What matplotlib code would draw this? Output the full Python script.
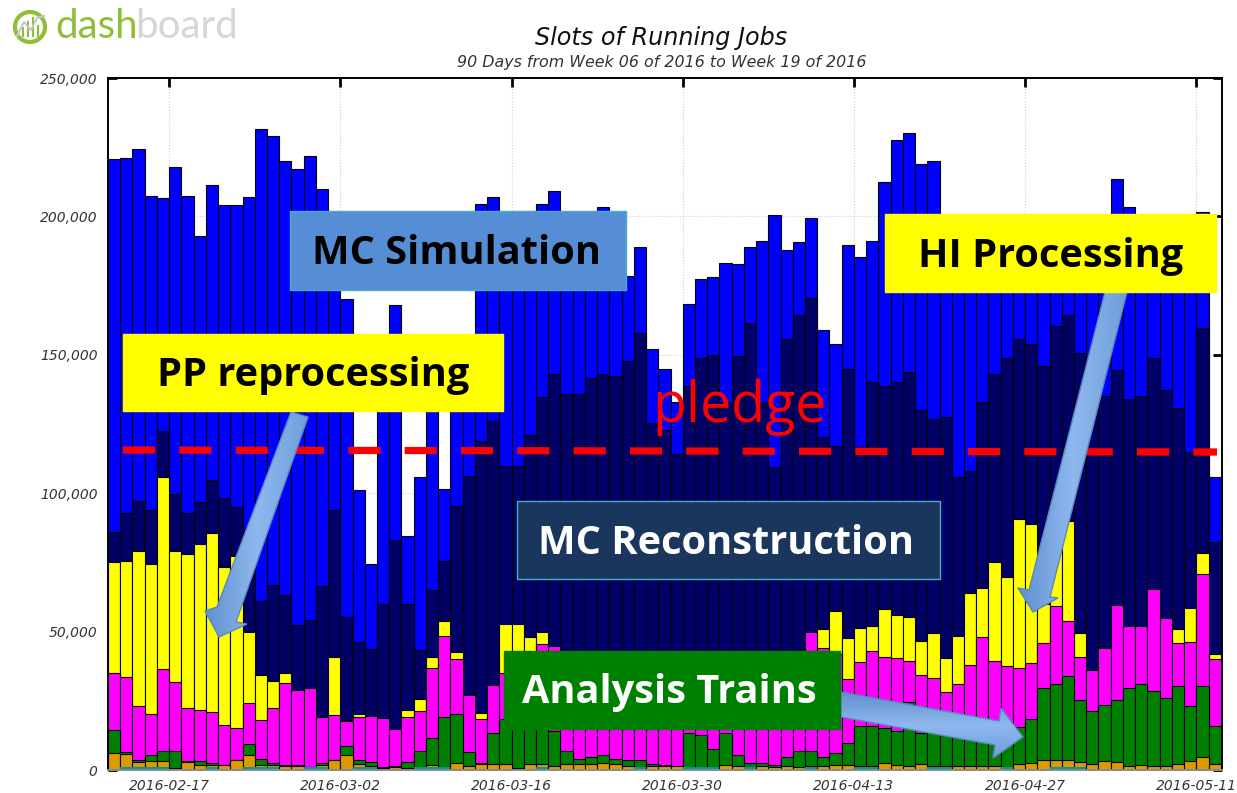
#!/usr/bin/env python3
"""Slots of running jobs, stacked daily bars with slide annotations on top."""
import matplotlib
matplotlib.use("Agg")
import matplotlib.dates as mdates
import matplotlib.pyplot as plt
import numpy as np
from matplotlib.colors import LinearSegmentedColormap
from matplotlib.patches import Circle, Polygon, Rectangle
from matplotlib.ticker import FuncFormatter

W, H = 1237, 793

# stack tops per day, in thousands of slots
blue_top = [220.7, 221, 224.5, 207.5, 206.5, 218, 207.5, 193, 211.5, 204,
            204, 207, 231.5, 229, 220, 217, 222, 210, 190, 170,
            101, 74.5, 130, 168, 84.5, 106, 135, 101.5, 130, 145,
            204.5, 207, 190, 190, 202, 204.5, 209, 195, 195, 200,
            203.5, 190, 178.5, 189, 152, 145, 133, 168.4, 177.5, 178,
            183, 182.7, 189, 191.2, 200.5, 187.8, 190.7, 199.3, 159, 154,
            189.7, 185.5, 191.2, 212.5, 227.5, 230, 218.8, 220, 190, 185,
            190, 195, 190, 180, 185, 190, 195, 195, 190, 185,
            190, 195, 213.6, 203.3, 190, 190, 185, 172.7, 185, 201.6, 106]
navy_top = [85.9, 92.7, 97.2, 94, 122.5, 99.7, 92.7, 96.7, 104.8, 98.4,
            95, 75, 61.2, 66.8, 63.4, 52.5, 54.2, 66.3, 94, 55.4,
            46.2, 43.6, 60, 83, 60, 43.4, 65, 75.4, 95.5, 106.3,
            119, 126, 110, 109.7, 121, 134.7, 143, 135.8, 136, 141.6,
            143, 142.5, 147.9, 157.7, 125.4, 122.7, 114.2, 138.7, 148.8, 150,
            133, 149.4, 161.5, 133, 109.6, 155.7, 164.4, 170.6, 120.4, 117,
            144.9, 116.8, 140.2, 138.7, 140.2, 143.8, 130, 126.8, 127.5, 106,
            108, 133, 143, 148.8, 155.7, 154, 146, 160.4, 164.4, 150.6,
            140, 135, 144.5, 134, 135, 148.8, 137.3, 130.8, 115, 159.7, 82.4]
yellow_top = [75, 75.6, 79, 74.4, 105.9, 79, 78, 81.8, 85.8, 73.3,
              77.3, 49.7, 34.3, 32, 35, 29, 29.8, 19, 41, 17.9,
              20.4, 19.6, 18.9, 14.7, 21.7, 25.6, 40.7, 53.7, 42.8, 27,
              20.6, 30.7, 52.6, 52.6, 48, 49.7, 44.9, 38, 37, 36,
              38, 37, 36, 35, 34, 33, 32, 35, 36, 37,
              35, 34, 36, 38, 40, 38, 41, 49.7, 50.9, 57.4,
              47.7, 51.4, 52, 58.3, 56, 55.4, 46.6, 49.4, 40.5, 48.5,
              64, 65.8, 75, 69.9, 90.6, 88.8, 60, 80, 90, 49.4,
              36, 44.2, 59.5, 52, 52, 65.3, 54.9, 50.9, 58.4, 78.4, 41.8]
magenta_top = [35.2, 33.6, 23.2, 20.4, 36.4, 31.8, 22.5, 21.5, 20.9, 16.3,
               15.1, 24.3, 18.1, 22.5, 31.3, 29, 29.8, 19, 19.8, 17.8,
               19, 19.6, 18.9, 14.7, 19, 21.3, 37, 48.3, 40, 27,
               18.6, 30.7, 35.2, 36, 38, 45.4, 44.9, 38, 37, 36,
               38, 37, 36, 35, 34, 33, 32, 35, 36, 37,
               35, 34, 36, 38, 40, 38, 41, 49.7, 44, 42,
               33, 39, 43, 41, 40.4, 39.2, 34.2, 33.1, 28, 31,
               37.9, 48.2, 39.2, 37.6, 36.8, 38.8, 45.8, 59.1, 54, 41,
               36, 44.2, 59.5, 52, 52, 65.3, 54.9, 46, 46.3, 70.9, 40]
green_top = [14.4, 6.6, 3.7, 5.4, 7, 7, 3.1, 3.1, 2.5, 1.9,
             3.5, 9.3, 4, 2.7, 1.9, 1.9, 1, 2.5, 3.5, 8.7,
             3.5, 3, 1, 1.6, 3, 7, 11.6, 19, 20.2, 6.5,
             2.7, 13.2, 18.3, 17, 16, 16, 14, 7, 4, 4.6,
             5.4, 4, 3.7, 3.7, 2.2, 1.9, 1.2, 13.2, 12.6, 7.5,
             13.2, 5.3, 2.5, 2.7, 1.9, 4.6, 7, 7, 4.6, 6.3,
             9.6, 16, 16, 15, 14, 24.6, 13.2, 14, 14, 14.5,
             15, 15, 15, 15, 15.4, 18.3, 29.8, 31, 33.9, 25.3,
             21.3, 23.6, 25.3, 29.8, 31, 28.7, 25.9, 30.5, 23, 30.5, 15.8]
orange_top = [6.3, 5.7, 2.9, 3.1, 3.1, 0.8, 2.8, 1.9, 1.9, 1.9,
              3.5, 5.3, 1.9, 1.9, 1.3, 1.3, 0.7, 1.9, 3.5, 5.3,
              2.2, 1.3, 0.7, 1, 0.8, 1, 1.8, 1.1, 2.4, 1.3,
              2, 2, 2, 0.8, 2, 2, 1.3, 2, 2, 2,
              2.5, 2, 1.3, 1.2, 1.3, 1.3, 1.3, 0.9, 1.1, 1.1,
              1.8, 1.3, 0.9, 1.3, 1.1, 1.5, 1.2, 1.5, 1.5, 1.8,
              1.8, 1.3, 1.3, 2.5, 1.8, 1.3, 2, 1.5, 1.5, 1.5,
              1.6, 1.6, 1.6, 1, 2.2, 2.7, 3.6, 3.6, 3.6, 2.8,
              2.1, 3.4, 2.8, 1.3, 1.8, 1.3, 1.3, 2.2, 3.4, 4.6, 2.2]
teal_top = [0, 1, 1, 1, 1, 0, 0, 0, 1, 0,
            0, 1, 1, 1, 0, 0, 1, 1, 0, 0,
            1, 1, 0, 0, 0, 1, 1, 1, 0, 0,
            0, 0, 0, 0, 0, 1, 0, 0, 0, 0,
            0, 0, 0, 1, 0, 0, 0, 1, 1, 1,
            0, 0, 1, 0, 0, 0, 0, 1, 0, 0,
            0, 1, 1, 0, 0, 0, 0, 1, 1, 0,
            0, 0, 0, 1, 0, 0, 0, 1, 1, 1,
            0, 0, 0, 0, 0, 0, 0, 0, 0, 0, 0]

series = [(blue_top, "#0000ff"), (navy_top, "#000066"), (yellow_top, "#ffff00"),
          (magenta_top, "#ff00ff"), (green_top, "#008000"),
          (orange_top, "#dd9900")]

first_day = np.datetime64("2016-02-12")
tick_dates = ["2016-02-17", "2016-03-02", "2016-03-16", "2016-03-30",
              "2016-04-13", "2016-04-27", "2016-05-11"]
y_ticks = [0, 50000, 100000, 150000, 200000, 250000]

title = "Slots of Running Jobs"
subtitle = "90 Days from Week 06 of 2016 to Week 19 of 2016"

# label, x0, y0, x1, y1, fill, edge, text colour, text centre x
boxes = [
    ("MC Simulation", 290, 211, 626, 290, "#558ed5", "#4bacc6", "black", 456),
    ("PP reprocessing", 123, 334, 503, 411, "#ffff00", "#ffff00", "black", 313),
    ("HI Processing", 885, 214, 1216, 292, "#ffff00", "#ffff00", "black", 1051),
    ("MC Reconstruction", 517, 501, 940, 579, "#1a365d", "#4bacc6", "white", 726),
    ("Analysis Trains", 504, 651, 840, 729, "#008000", "#008000", "white", 669),
]
# outline points, gradient direction
arrows = [
    ([(291, 412), (308, 417), (236, 622), (247, 624), (219, 637), (205, 611), (217, 607)], "h"),
    ([(1105, 292), (1127, 292), (1050, 597), (1058, 598), (1033, 612), (1018, 588), (1029, 590)], "h"),
    ([(841, 692), (999, 721), (1001, 708), (1023, 737), (993, 758), (995, 745), (841, 717)], "v"),
]


def draw_arrow(ov, pts, direction):
    xs, ys = zip(*pts)
    cmap = LinearSegmentedColormap.from_list("arrow", ["#5f90cf", "#8fb8ee", "#6f9fdc"])
    grad = np.linspace(0, 1, 64)
    grad = grad.reshape(1, -1) if direction == "h" else grad.reshape(-1, 1)
    im = ov.imshow(grad, cmap=cmap, aspect="auto", zorder=3,
                   extent=(min(xs), max(xs), max(ys), min(ys)))
    poly = Polygon(pts, closed=True, fc="none", ec="#5c87bd", lw=1, zorder=3.1)
    ov.add_patch(poly)
    im.set_clip_path(poly)


def main():
    fig = plt.figure(figsize=(W / 100, H / 100), dpi=100)
    ax = fig.add_axes([108 / W, 1 - 770 / H, (1222 - 108) / W, (770 - 78) / H])

    days = (first_day + np.arange(len(blue_top))).astype(object)
    for tops, colour in series:
        ax.bar(days, np.array(tops) * 1000, width=1, align="edge", color=colour,
               edgecolor="#050505", linewidth=0.8, zorder=2)
    ax.bar(days, np.array(teal_top) * 1000, width=1, align="edge", color="#009999",
           linewidth=0, zorder=2)

    ax.set_xlim(mdates.date2num(first_day), mdates.date2num(first_day) + 91.1)
    ax.set_ylim(0, 250000)
    ax.set_xticks([mdates.date2num(np.datetime64(d)) for d in tick_dates])
    ax.xaxis.set_major_formatter(mdates.DateFormatter("%Y-%m-%d"))
    ax.set_yticks(y_ticks)
    ax.yaxis.set_major_formatter(FuncFormatter(lambda v, _: f"{int(v):,}"))
    ax.tick_params(axis="both", direction="in", top=True, right=True, length=6.5, width=2,
                   labelsize=10, labelcolor="#333333")
    ax.tick_params(axis="x", pad=6.5)
    ax.tick_params(axis="y", pad=7.5)
    for lab in ax.get_xticklabels() + ax.get_yticklabels():
        lab.set_style("italic")
    ax.grid(True, ls=":", color="#d0d0d0", lw=0.8, zorder=0)
    ax.set_axisbelow(True)
    for sp in ax.spines.values():
        sp.set_linewidth(1.4)
        sp.set_zorder(5)
    ax.spines["bottom"].set_color("#8a8a8a")

    fig.text(661 / W, 1 - 38 / H, title, ha="center", va="center", style="italic",
             fontsize=17.2, color="#111111")
    fig.text(662 / W, 1 - 63 / H, subtitle, ha="center", va="center", style="italic",
             fontsize=11.4, color="#333333")

    # slide overlay drawn in picture pixels
    ov = fig.add_axes([0, 0, 1, 1], facecolor="none")
    ov.set_axis_off()

    ov.plot([123, 1217], [450, 452], color="#ff0000", lw=5.2, ls=(0, (4.45, 3.35)),
            zorder=2)
    ov.text(739, 407, "pledge", color="#ff0000", fontsize=40, ha="center", va="center",
            family="Open Sans", zorder=2)

    for pts, direction in arrows:
        draw_arrow(ov, pts, direction)

    for label, x0, y0, x1, y1, fill, edge, tc, tx in boxes:
        ov.add_patch(Rectangle((x0, y0), x1 - x0, y1 - y0, fc=fill, ec=edge, lw=1, zorder=4))
        ov.text(tx, (y0 + y1) / 2 + 3, label, color=tc, fontsize=28.6, fontweight="bold",
                family="Open Sans", ha="center", va="center", zorder=5)

    # logo
    ov.add_patch(Circle((30, 27), 15, fc="none", ec="#8fbf3a", lw=3, zorder=2))
    for bx, bh in zip([23, 28, 33, 38], [8, 14, 18, 10]):
        ov.plot([bx, bx], [36, 36 - bh], color="#8fbf3a", lw=1.5, zorder=2)
    ov.plot([17, 24, 31, 37, 44], [36, 22, 30, 18, 16], color="#c8c8c8", lw=1.5, zorder=2)
    ov.text(55, 27, "dash", color="#8fbf3a", fontsize=29, family="Lato", ha="left",
            va="center", zorder=2)
    ov.text(135, 27, "board", color="#d6d6d6", fontsize=29, family="Lato", ha="left",
            va="center", zorder=2)

    ov.set_xlim(0, W)
    ov.set_ylim(H, 0)

    fig.savefig("out.png", dpi=100)


if __name__ == "__main__":
    main()
